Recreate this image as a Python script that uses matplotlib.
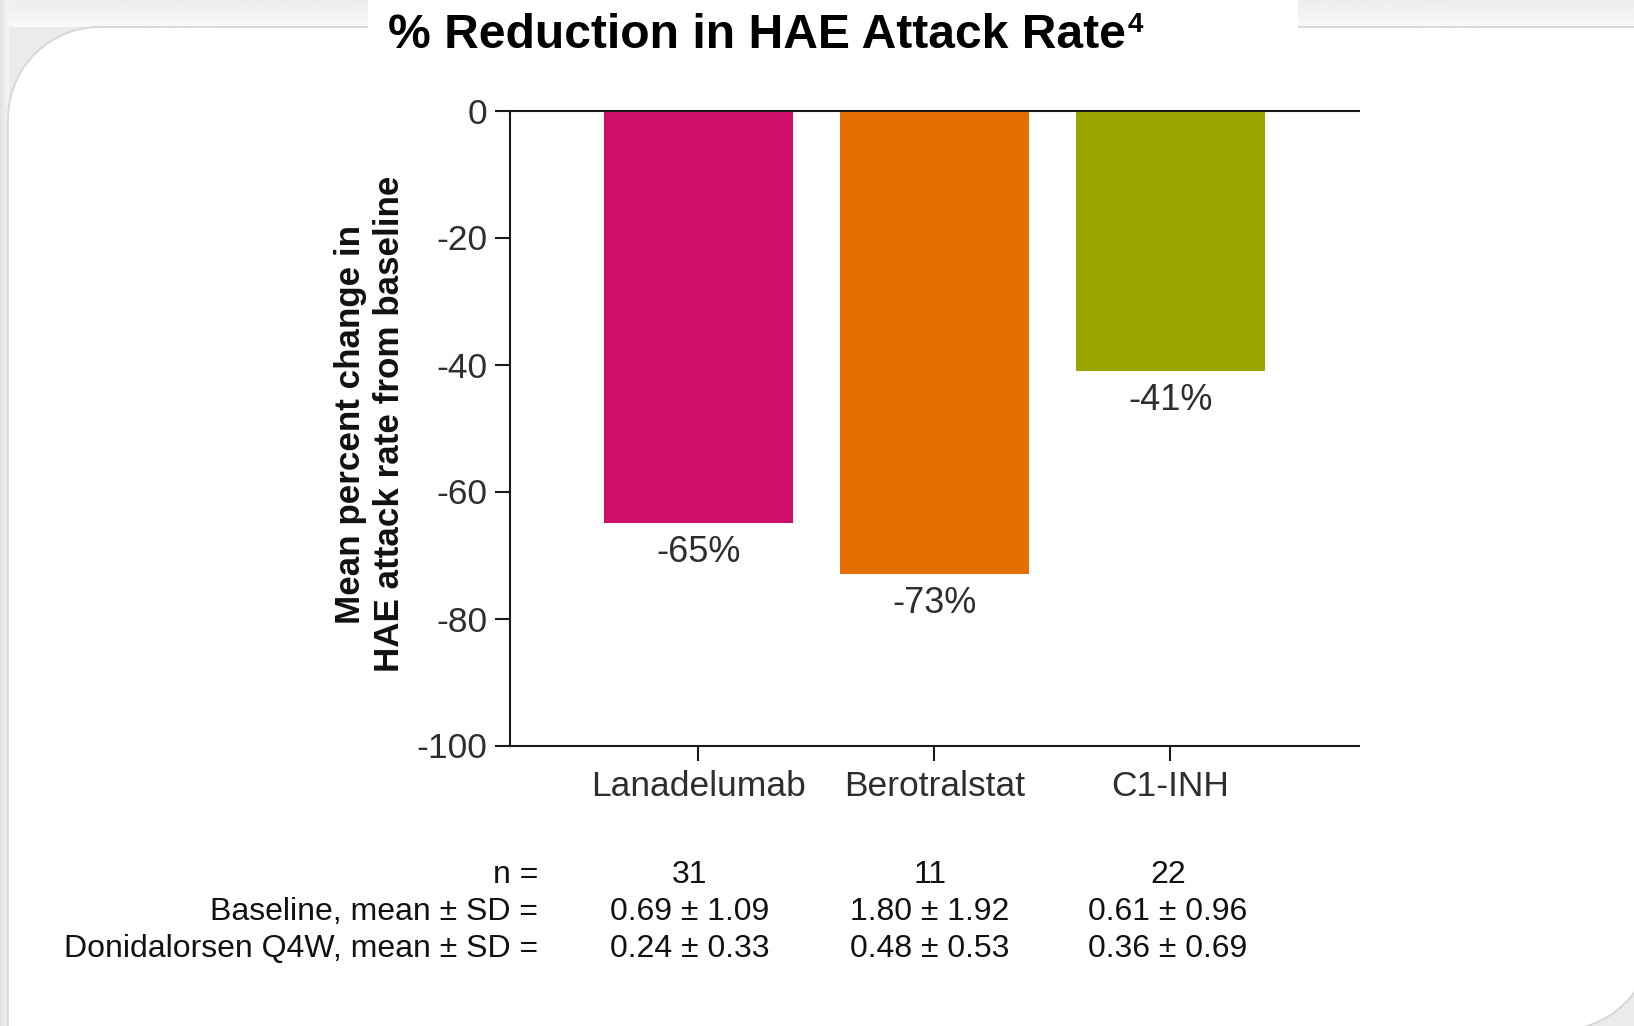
import numpy as np
import matplotlib.pyplot as plt
from matplotlib.patches import Polygon, Rectangle

plt.rcParams['font.family'] = ['Liberation Sans', 'DejaVu Sans']
plt.rcParams['axes.unicode_minus'] = False

# Data
categories = ['Lanadelumab', 'Berotralstat', 'C1-INH']
pct_change = [-65, -73, -41]
bar_colors = ['#CD0F6A', '#E36F00', '#9AA500']
n_values = ['31', '11', '22']
baseline = ['0.69 ± 1.09', '1.80 ± 1.92', '0.61 ± 0.96']
donidalorsen = ['0.24 ± 0.33', '0.48 ± 0.53', '0.36 ± 0.69']
row_labels = ['n =', 'Baseline, mean ± SD =', 'Donidalorsen Q4W, mean ± SD =']
yticks = [0, -20, -40, -60, -80, -100]

W, H = 1634, 1026
fig = plt.figure(figsize=(W / 100, H / 100), dpi=100)
fig.patch.set_facecolor('#ebebeb')

# background card (pixel coords, y down)
bg = fig.add_axes([0, 0, 1, 1], zorder=-1)
grad = np.linspace(0.93, 0.975, 30).reshape(-1, 1)
bg.imshow(grad, extent=(0, W, 27, 0), cmap='gray', vmin=0, vmax=1, aspect='auto')
side = np.linspace(0.89, 0.96, 10).reshape(1, -1)
bg.imshow(side, extent=(0, 9, H, 0), cmap='gray', vmin=0, vmax=1, aspect='auto')
bg.set_xlim(0, W)
bg.set_ylim(H, 0)
bg.axis('off')

r = 92
t1 = np.linspace(np.pi, 1.5 * np.pi, 40)
t2 = np.linspace(0, 0.5 * np.pi, 40)
pts = [(8, H + 20)]
pts += list(zip(100 + r * np.cos(t1), 119 + r * np.sin(t1)))
pts += [(W + 20, 27), (W + 20, 938)]
pts += list(zip(1560 + r * np.cos(t2), 938 + r * np.sin(t2)))
pts += [(1560, H + 20)]
bg.add_patch(Polygon(pts, closed=True, facecolor='white', edgecolor='#d4d4d4', linewidth=1.2))
bg.add_patch(Rectangle((368, 0), 1298 - 368, 28.5, facecolor='white', edgecolor='none'))


def fx(px):
    return px / W


def fy(py):
    return 1 - py / H


# Chart
ax = fig.add_axes([fx(509.6), fy(745.5), fx(1359) - fx(509.6), fy(110.5) - fy(745.5)])
ax.patch.set_alpha(0)
x = np.arange(len(categories))
ax.bar(x, pct_change, width=0.8, color=bar_colors)
ax.set_xlim(-0.8, 2.8)
ax.set_ylim(-100, 0)
ax.set_yticks(yticks)
ax.set_yticklabels([str(t) for t in yticks])
ax.set_xticks(x)
ax.set_xticklabels(categories)
ax.spines['right'].set_visible(False)
for s in ['left', 'top', 'bottom']:
    ax.spines[s].set_linewidth(1.5)
    ax.spines[s].set_color('#1a1a1a')
ax.tick_params(axis='y', direction='out', length=11, width=1.5, pad=5,
               labelsize=25.5, labelcolor='#2e2e2e', color='#1a1a1a')
ax.tick_params(axis='x', direction='out', length=11, width=1.5, pad=7,
               labelsize=25.5, labelcolor='#2e2e2e', color='#1a1a1a')

for xi, v in zip(x, pct_change):
    ax.annotate(f'{v}%', (xi, v), xytext=(0, -21), textcoords='offset points',
                ha='center', va='center', fontsize=26, color='#2e2e2e')

# y label
fig.text(fx(370), fy(424), 'Mean percent change in\nHAE attack rate from baseline',
         rotation=90, ha='center', va='center', fontsize=25.2, fontweight='bold',
         color='#111111', multialignment='center', linespacing=1.25)

# title
t = fig.text(fx(388), fy(36), '% Reduction in HAE Attack Rate', ha='left', va='center',
             fontsize=34.6, fontweight='bold', color='black')
fig.canvas.draw()
bb = t.get_window_extent()
fig.text(bb.x1 / W + 0.001, fy(25), '4', ha='left', va='center', fontsize=20,
         fontweight='bold', color='black')

# table below
row_y = [875, 912, 949]
col_x = [690, 930, 1168]
for lbl, ry in zip(row_labels, row_y):
    fig.text(fx(538), fy(ry), lbl, ha='right', va='center', fontsize=23, color='#111111')
for cx, nv, bv, dv in zip(col_x, n_values, baseline, donidalorsen):
    for val, ry in zip([nv, bv, dv], row_y):
        fig.text(fx(cx), fy(ry), val, ha='center', va='center', fontsize=23, color='#111111')

fig.savefig('out.png', dpi=100, facecolor=fig.get_facecolor())
